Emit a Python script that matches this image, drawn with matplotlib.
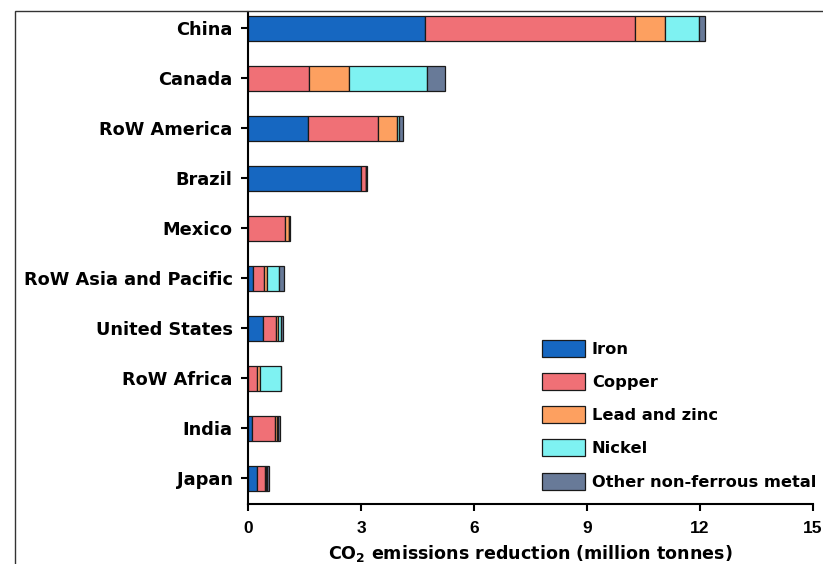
import matplotlib
matplotlib.use("Agg")
import matplotlib.pyplot as plt
from matplotlib.patches import Rectangle
import numpy as np

plt.rcParams['font.family'] = ['DejaVu Sans']
plt.rcParams['font.weight'] = 'bold'

# regions, top to bottom
regions = ['China', 'Canada', 'RoW America', 'Brazil', 'Mexico',
           'RoW Asia and Pacific', 'United States', 'RoW Africa', 'India', 'Japan']

# CO2 reduction by metal (million tonnes)
iron = [4.70, 0.00, 1.58, 3.01, 0.00, 0.12, 0.39, 0.00, 0.10, 0.23]
copper = [5.57, 1.62, 1.86, 0.12, 0.98, 0.30, 0.35, 0.25, 0.63, 0.22]
lead_zinc = [0.80, 1.07, 0.51, 0.00, 0.12, 0.09, 0.06, 0.06, 0.03, 0.04]
nickel = [0.90, 2.07, 0.05, 0.00, 0.00, 0.31, 0.08, 0.57, 0.03, 0.02]
other = [0.16, 0.47, 0.12, 0.02, 0.01, 0.14, 0.04, 0.00, 0.05, 0.04]

series = [('Iron', iron, '#1667c1'),
          ('Copper', copper, '#f07076'),
          ('Lead and zinc', lead_zinc, '#fda060'),
          ('Nickel', nickel, '#7ef2f2'),
          ('Other non-ferrous metal', other, '#687a98')]

fig = plt.figure(figsize=(8.23, 5.64), dpi=100)
ax = fig.add_axes([248 / 823, 1 - 504 / 564, 565 / 823, 492 / 564])

# outer frame line
fig.patches.append(Rectangle((15 / 823, -0.1), 1.2, 1.1 - 11 / 564,
                             transform=fig.transFigure, fill=False,
                             edgecolor='#333333', linewidth=1.0))

y = np.arange(len(regions))[::-1]
left = np.zeros(len(regions))
for name, vals, color in series:
    vals = np.array(vals)
    ax.barh(y, vals, left=left, height=0.5, color=color, edgecolor='#1a1a1a',
            linewidth=0.9, label=name)
    left += vals

ax.set_xlim(0, 15)
ax.set_ylim(-0.52, 9.32)
ax.set_yticks(y)
ax.set_yticklabels(regions, fontsize=12.8, fontweight='bold')
ax.set_xticks([0, 3, 6, 9, 12, 15])
ax.set_xticklabels(['0', '3', '6', '9', '12', '15'], fontsize=12.5,
                   fontweight='bold', family=['Liberation Sans Narrow', 'Liberation Sans'])
ax.set_xlabel('CO$_2$ emissions reduction (million tonnes)', fontsize=12.6,
              fontweight='bold', labelpad=5)
ax.spines['top'].set_visible(False)
ax.spines['right'].set_visible(False)
ax.spines['left'].set_linewidth(1.5)
ax.spines['bottom'].set_linewidth(1.5)
ax.tick_params(axis='both', direction='out', length=5, width=1.5)
ax.tick_params(axis='y', pad=6)
ax.tick_params(axis='x', pad=7)

leg = ax.legend(loc='upper left', bbox_to_anchor=((542 - 248) / 565, (504 - 340) / 492),
                frameon=False, handlelength=2.65, handleheight=1.22,
                labelspacing=1.0, handletextpad=0.42, borderaxespad=0, borderpad=0,
                prop={'weight': 'bold', 'size': 11.7})

fig.savefig('out.png', dpi=100)
